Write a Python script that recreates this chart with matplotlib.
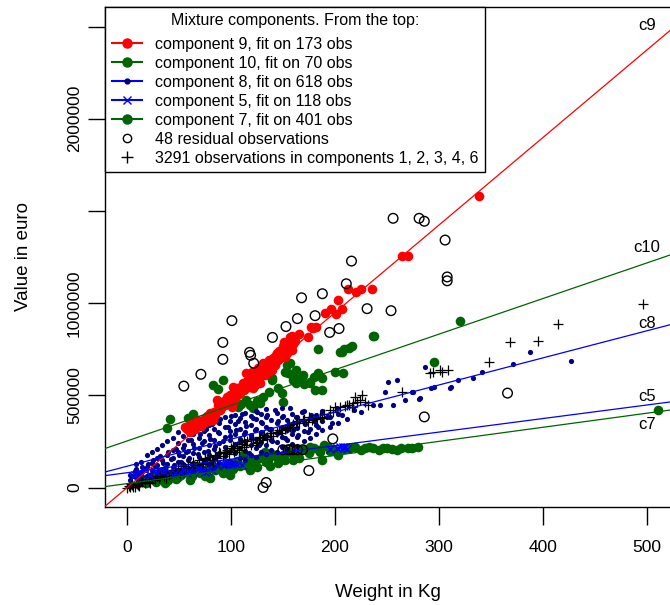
import matplotlib
matplotlib.use("Agg")
import matplotlib.pyplot as plt
from matplotlib.lines import Line2D
import numpy as np

plt.rcParams['font.family'] = ['Liberation Sans', 'DejaVu Sans']

# weight (kg), value (thousand euro)
c9_pts = [(55.8, 329), (60.6, 302), (65, 339), (67.3, 366), (73.1, 350), (75, 377), (79.8, 404),
          (82.7, 366), (86.5, 474), (89.4, 420), (94, 447), (96.2, 490), (99, 501), (101, 436),
          (102, 544), (104, 474), (107, 528), (109, 512), (112, 566), (113, 528), (115, 620),
          (118, 582), (120, 625), (121, 539), (123, 555), (125, 598), (126, 647), (128, 566),
          (131, 674), (131, 636), (133, 609), (135, 674), (136, 625), (138, 674), (140, 636),
          (142, 663), (143, 717), (144, 727), (147, 700), (150, 770), (151, 787), (152, 706),
          (155, 744), (157, 814), (157, 770), (159, 824), (159, 744), (162, 797), (166, 835),
          (174, 814), (177, 873), (179, 867), (182, 873), (191, 948), (196, 970), (201, 943),
          (203, 1018), (207, 970), (213, 1078), (220, 1061), (225, 1078), (236, 1078),
          (265, 1255), (270, 1255), (339, 1579),
          (58, 315), (62, 345), (66, 320), (70, 360), (71, 335), (77, 390), (78, 360), (81, 385),
          (84, 410), (85, 395), (88, 445), (91, 430), (93, 470), (97, 460), (98, 480), (100, 500),
          (103, 510), (105, 495), (106, 540), (108, 505), (110, 545), (111, 530), (114, 560),
          (116, 575), (117, 545), (119, 600), (122, 590), (124, 610), (127, 600), (129, 620),
          (130, 655), (132, 650), (134, 640), (137, 690), (139, 655), (141, 700), (145, 690),
          (146, 740), (148, 735), (153, 760), (154, 730), (156, 790), (160, 780), (161, 805)]

c10_pts = [(38.5, 323), (41.3, 372), (58.7, 377), (63.5, 399), (82.7, 555), (87.5, 533), (92.3, 582),
           (107, 436), (115, 474), (121, 431), (128, 458), (131, 490), (137, 517), (140, 582),
           (140, 593), (149, 512), (150, 463), (152, 625), (154, 663), (155, 620), (157, 674),
           (160, 598), (160, 582), (163, 636), (163, 566), (169, 609), (176, 566), (181, 528),
           (184, 620), (184, 749), (188, 593), (188, 528), (200, 625), (205, 733), (207, 733),
           (208, 620), (209, 749), (214, 754), (216, 765), (237, 824), (238, 824), (295, 679),
           (320, 905), (110, 455), (118, 445), (125, 470), (145, 540), (165, 590), (170, 560),
           (180, 600)]

c8_pts = [(5, 60), (8, 90), (12, 75), (15, 110), (18, 95), (20, 130), (22, 70), (25, 150), (27, 115),
          (30, 90), (32, 170), (35, 135), (37, 105), (40, 190), (42, 155), (45, 120), (47, 210),
          (50, 175), (52, 140), (55, 230), (57, 195), (60, 160), (62, 260), (63, 125), (65, 215),
          (68, 180), (70, 290), (72, 240), (74, 150), (76, 320), (78, 200), (80, 265), (82, 345),
          (85, 225), (87, 170), (88, 300), (90, 370), (92, 250), (95, 195), (97, 330), (99, 280),
          (100, 390), (102, 220), (105, 310), (107, 360), (109, 245), (111, 400), (113, 290),
          (115, 335), (117, 185), (119, 270), (121, 375), (123, 310), (125, 410), (127, 230),
          (130, 350), (132, 280), (135, 395), (137, 320), (140, 250), (142, 420), (145, 360),
          (147, 300), (150, 390), (152, 270), (155, 340), (157, 430), (160, 310), (163, 380),
          (165, 285), (168, 410), (171, 345), (174, 300), (177, 395), (180, 360), (184, 330),
          (188, 415), (192, 380), (197, 350), (202, 430), (207, 395), (212, 370), (218, 420),
          (225, 410), (237, 447), (243, 447), (248, 517), (251, 571), (256, 447), (260, 582),
          (267, 474), (274, 517), (275, 517), (281, 480), (282, 485), (287, 652), (292, 539),
          (295, 544), (311, 539), (312, 544), (318, 582), (333, 593), (341, 625), (371, 668),
          (388, 733), (427, 684),
          (3, 40), (3, 70), (9, 55), (9, 100), (9, 130), (14, 45), (14, 85), (14, 140), (19, 65),
          (19, 110), (19, 175), (24, 50), (24, 95), (24, 135), (24, 190), (29, 75), (29, 120),
          (29, 160), (29, 210), (34, 60), (34, 100), (34, 150), (34, 230), (39, 85), (39, 130),
          (39, 175), (39, 250), (44, 70), (44, 110), (44, 160), (44, 205), (44, 270), (49, 95),
          (49, 140), (49, 190), (49, 240), (49, 300), (54, 80), (54, 125), (54, 170), (54, 215),
          (54, 280), (54, 330), (59, 105), (59, 150), (59, 200), (59, 255), (59, 310), (64, 90),
          (64, 135), (64, 185), (64, 235), (64, 290), (64, 345), (69, 115), (69, 165), (69, 215),
          (69, 270), (69, 330), (74, 100), (74, 145), (74, 195), (74, 250), (74, 305), (74, 360),
          (79, 125), (79, 175), (79, 230), (79, 285), (79, 340), (84, 110), (84, 160), (84, 210),
          (84, 260), (84, 315), (84, 375), (89, 135), (89, 185), (89, 240), (89, 295), (89, 350),
          (94, 120), (94, 170), (94, 220), (94, 275), (94, 330), (94, 385), (99, 145), (99, 200),
          (99, 255), (99, 305), (99, 360), (104, 135), (104, 185), (104, 235), (104, 290),
          (104, 345), (104, 395), (109, 160), (109, 215), (109, 265), (109, 320), (109, 375),
          (114, 150), (114, 200), (114, 250), (114, 300), (114, 355), (114, 405), (119, 175),
          (119, 230), (119, 285), (119, 340), (119, 390), (124, 165), (124, 215), (124, 265),
          (124, 315), (124, 370), (124, 415), (129, 190), (129, 245), (129, 300), (129, 355),
          (129, 400), (134, 180), (134, 230), (134, 280), (134, 330), (134, 385), (134, 425),
          (139, 205), (139, 260), (139, 315), (139, 365), (144, 195), (144, 245), (144, 295),
          (144, 350), (144, 405), (149, 220), (149, 275), (149, 330), (149, 380), (149, 430),
          (154, 210), (154, 260), (154, 310), (154, 365), (159, 235), (159, 290), (159, 345),
          (159, 400), (164, 225), (164, 275), (164, 325), (164, 380), (170, 250), (170, 305),
          (170, 360), (170, 415), (176, 270), (176, 320), (176, 375), (182, 290), (182, 340),
          (182, 395), (188, 310), (188, 360), (195, 330), (195, 385), (203, 350), (203, 400)]

c5_pts = [(5.8, 59), (12.5, 81), (17.3, 97), (22.1, 70), (31.7, 97), (41.3, 86), (51, 86), (57.7, 81),
          (63.5, 86), (68.3, 102), (75, 86), (81.7, 97), (92.3, 124), (97.1, 135), (102, 124),
          (111, 124), (195, 210), (202, 216), (205, 221), (208, 221), (210, 221), (212, 210),
          (8, 70), (15, 75), (27, 90), (36, 92), (46, 80), (55, 95), (60, 90), (71, 95), (78, 92),
          (88, 118), (95, 128), (100, 130), (106, 120)]

c7_pts = [(12.5, 32), (20.2, 54), (26.9, 43), (31.7, 65), (36.5, 48), (37, 22), (43.3, 70), (49, 59),
          (55.8, 86), (60.6, 70), (61, 43), (65.4, 97), (70.2, 81), (77.9, 108), (80, 54), (84.6, 97),
          (89.4, 119), (97.1, 108), (99, 70), (104, 135), (109, 119), (112, 178), (116, 140),
          (118, 97), (123, 129), (128, 162), (133, 194), (136, 151), (138, 119), (142, 172),
          (147, 156), (152, 151), (157, 194), (162, 172), (166, 205), (166, 162), (176, 221),
          (186, 194), (188, 151), (193, 221), (200, 205), (203, 178), (210, 210), (219, 221),
          (229, 216), (237, 216), (246, 216), (255, 210), (264, 216), (274, 216), (511, 420),
          (15, 45), (18, 25), (24, 60), (28, 30), (34, 55), (40, 40), (42, 75), (47, 45), (52, 70),
          (58, 95), (63, 65), (68, 110), (72, 90), (75, 60), (82, 120), (87, 100), (92, 80),
          (95, 125), (102, 100), (106, 145), (114, 120), (120, 155), (125, 110), (131, 170),
          (134, 140), (140, 180), (145, 135), (150, 175), (155, 200), (160, 150), (165, 190),
          (170, 210), (175, 185), (180, 215), (185, 205), (190, 230), (195, 200), (215, 215),
          (225, 205), (233, 220), (242, 205), (250, 215), (260, 205), (270, 212), (280, 218)]

resid_pts = [(54.8, 550), (71.2, 614), (92.3, 787), (92.3, 695), (101, 905), (118, 733), (119, 717),
             (122, 674), (140, 814), (153, 873), (164, 916), (168, 1029), (181, 932), (188, 1051),
             (195, 841), (204, 862), (211, 1105), (216, 1228), (231, 970), (254, 959), (256, 1460),
             (281, 1460), (286, 1444), (306, 1342), (308, 1142), (308, 1121), (366, 512), (286, 383),
             (198, 264), (175, 92), (134, 27), (131, 0), (150, 205), (155, 205), (157, 205),
             (160, 205), (164, 205), (169, 205)]

other_pts = [(0, 0), (3, 5), (5, 12), (8, 3), (10, 18), (12, 8), (15, 32), (22, 27), (32, 65), (38, 54),
             (46, 97), (51, 81), (56, 108), (63, 108), (73, 135), (75, 162), (83, 151), (89, 194),
             (96, 205), (102, 226), (106, 216), (113, 259), (115, 232), (125, 248), (128, 269),
             (135, 275), (138, 296), (144, 302), (149, 312), (154, 323), (157, 329), (160, 329),
             (163, 356), (166, 350), (169, 366), (174, 356), (178, 366), (183, 377), (186, 383),
             (188, 377), (198, 409), (200, 436), (205, 436), (212, 447), (214, 447), (216, 436),
             (217, 458), (219, 490), (221, 463), (224, 474), (226, 501), (229, 463), (232, 447),
             (265, 517), (291, 620), (294, 625), (301, 636), (303, 625), (309, 636), (348, 679),
             (368, 787), (395, 797), (415, 889), (496, 997),
             (2, 8), (4, 20), (6, 2), (9, 25), (11, 12), (14, 35), (17, 22), (19, 45), (21, 30),
             (24, 55), (27, 42), (29, 65), (31, 50), (34, 75), (36, 60), (39, 85), (41, 70), (44, 95),
             (47, 82), (49, 105), (52, 92), (54, 118), (57, 100), (59, 125), (62, 112), (64, 138),
             (67, 120), (69, 148), (72, 130), (75, 155), (77, 140), (80, 168), (82, 150), (85, 178),
             (87, 162), (90, 188), (92, 172), (95, 195), (98, 182), (100, 212), (103, 195),
             (106, 225), (108, 205), (111, 238), (113, 218), (116, 250), (119, 232), (121, 262),
             (124, 240), (127, 275), (130, 255), (132, 285), (135, 265), (139, 295), (141, 280),
             (146, 310), (148, 295), (152, 320), (156, 340), (160, 345), (164, 360), (170, 372),
             (175, 380), (181, 370), (190, 400), (195, 420), (210, 440)]

# fitted lines: value = intercept + slope * weight (thousand euro)
fit_names = ['c9', 'c10', 'c8', 'c5', 'c7']
fit_intercept = [-2, 252, 115, 80, 21]
fit_slope = [4.75, 1.932, 1.47, 0.735, 0.764]
fit_colors = ['red', 'darkgreen', 'blue', 'blue', 'darkgreen']
label_y = [2508, 1304, 892, 491, 344]

comp_ids = [9, 10, 8, 5, 7]
comp_n = [173, 70, 618, 118, 401]
n_resid = 48
n_other = 3291


def xy(pts):
    a = np.array(pts, dtype=float)
    return a[:, 0], a[:, 1] * 1000


fig = plt.figure(figsize=(6.7, 6.05), dpi=100)
W, H = 670, 605
ax = fig.add_axes([105.5 / W, (H - 506.5) / H, (W - 105.5) / W, 499.5 / H])

x, y = xy(c7_pts)
ax.scatter(x, y, s=48, c='darkgreen', linewidths=0, zorder=2)
x, y = xy(c10_pts)
ax.scatter(x, y, s=48, c='darkgreen', linewidths=0, zorder=2)
x, y = xy(c8_pts)
ax.scatter(x, y, s=14, c='navy', linewidths=0, zorder=3)
x, y = xy(other_pts)
ax.scatter(x, y, s=60, c='black', marker='+', linewidths=0.9, zorder=3)
x, y = xy(c5_pts)
ax.scatter(x, y, s=34, c='blue', marker='x', linewidths=1, zorder=4)
x, y = xy(c9_pts)
ax.scatter(x, y, s=48, c='red', linewidths=0, zorder=4)
x, y = xy(resid_pts)
ax.scatter(x, y, s=48, facecolors='none', edgecolors='black', linewidths=1, zorder=5)

for b, m, col in zip(fit_intercept, fit_slope, fit_colors):
    ax.axline((0, b * 1000), slope=m * 1000, color=col, lw=0.9, zorder=6)
for name, ly in zip(fit_names, label_y):
    ax.text(500, ly * 1000, name, ha='center', va='center', fontsize=12, zorder=7)

ax.set_xlim(-20.5, 522.2)
ax.set_ylim(-103000, 2606000)
ax.set_xticks([0, 100, 200, 300, 400, 500])
ax.set_xticklabels(['0', '100', '200', '300', '400', '500'])
ax.set_yticks([0, 500000, 1000000, 1500000, 2000000, 2500000])
ax.set_yticklabels(['0', '500000', '1000000', '', '2000000', ''], rotation=90, va='center')
ax.tick_params(axis='x', length=13, width=1, pad=11, labelsize=12.5)
ax.tick_params(axis='y', length=12, width=1, pad=5, labelsize=12.5)
ax.spines['right'].set_visible(False)
for s in ['left', 'top', 'bottom']:
    ax.spines[s].set_linewidth(1)

ax.set_xlabel('Weight in Kg', fontsize=13.5, va='center')
ax.xaxis.set_label_coords(0.5, -0.173)
ax.set_ylabel('Value in euro', fontsize=13.5, va='center')
ax.yaxis.set_label_coords(-0.146, 0.5)

handles = [
    Line2D([], [], color='red', marker='o', ms=6.5, mec='red'),
    Line2D([], [], color='darkgreen', marker='o', ms=6.5),
    Line2D([], [], color='blue', marker='o', ms=3.5, mfc='navy', mec='navy'),
    Line2D([], [], color='blue', marker='x', ms=6),
    Line2D([], [], color='darkgreen', marker='o', ms=6.5),
    Line2D([], [], ls='none', marker='o', ms=6, mfc='none', mec='black'),
    Line2D([], [], ls='none', marker='+', ms=8, color='black'),
]
labels = ['component %d, fit on %d obs' % (c, n) for c, n in zip(comp_ids, comp_n)]
labels += ['%d residual observations' % n_resid,
           '%d observations in components 1, 2, 3, 4, 6' % n_other]
leg = ax.legend(handles, labels, title='Mixture components. From the top:',
                loc='upper left', bbox_to_anchor=(0, 1), borderaxespad=0,
                fontsize=11.5, title_fontsize=11.5, frameon=True, fancybox=False,
                edgecolor='black', framealpha=1, handlelength=1.9, handletextpad=0.8,
                labelspacing=0.25, borderpad=0.4)
leg._legend_box.sep = 6
leg.get_frame().set_linewidth(1)
leg.set_zorder(10)

fig.savefig('out.png', dpi=100)
